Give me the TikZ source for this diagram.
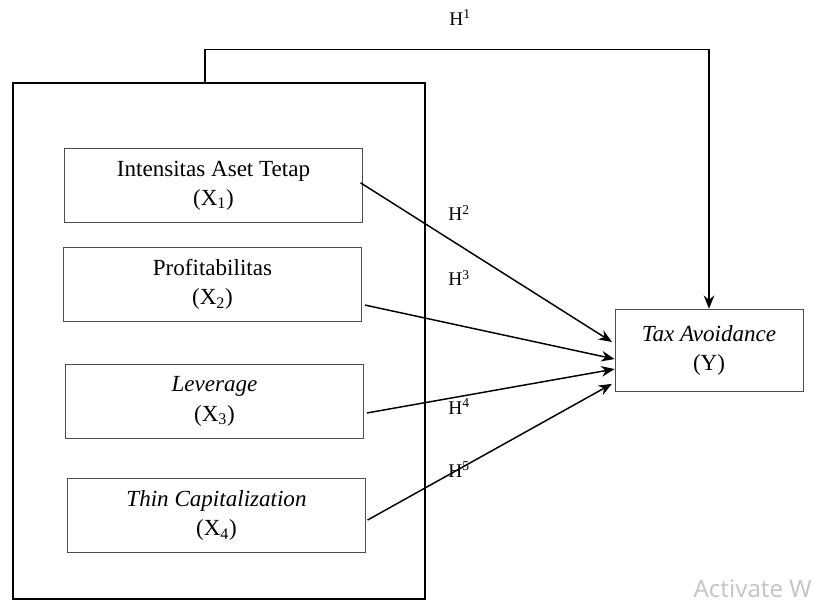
\documentclass[tikz,border=0pt]{standalone}
\usepackage{fontspec}
\setmainfont{Liberation Serif}
\newfontfamily\wmfont{Noto Sans}
\usetikzlibrary{positioning, arrows.meta, calc}
\tikzset{>={Stealth[length=10pt,width=8pt]}}

\begin{document}
\begin{tikzpicture}[
    x=0.75pt, y=-0.75pt,
    font=\fontsize{17.3}{22}\selectfont,
    var/.style={draw=gray!60!black, line width=0.6pt, align=center,
                minimum width=224pt, minimum height=56pt, inner sep=2pt},
    link/.style={->, line width=1.1pt},
    hlabel/.style={font=\fontsize{14.5}{16}\selectfont, inner sep=1pt},
  ]
  \useasboundingbox (0,0) rectangle (816,607);
  % outer frame
  \node[draw, line width=1.1pt, minimum width=309pt, minimum height=387pt] (frame) at (219,341) {};
  % independent variables
  \node[var] (X1) at (213.5,185.5) {Intensitas Aset Tetap\\(X\textsubscript{1})};
  \node[var] (X2) at (212.5,284.5) {Profitabilitas\\(X\textsubscript{2})};
  \node[var] (X3) at (214.5,401.5) {\textit{Leverage}\\(X\textsubscript{3})};
  \node[var] (X4) at (216.5,515.5) {\textit{Thin Capitalization}\\(X\textsubscript{4})};
  % dependent variable
  \node[var, minimum width=141pt, minimum height=62pt] (Y) at (709,350.5) {\textit{Tax Avoidance}\\(Y)};
  % hypotheses
  \draw[link] ([xshift=-10.5pt]frame.north) -- ++(0,-33) -| (Y.north);
  \draw[link] ([xshift=-2pt,yshift=2pt]X1.east) -- ([xshift=-2pt,yshift=6.4pt]Y.west);
  \draw[link] ([xshift=2pt,yshift=-15.4pt]X2.east) -- ([yshift=-6.4pt]Y.west);
  \draw[link] ([xshift=2pt,yshift=-8.6pt]X3.east) -- ([yshift=-13.9pt]Y.west);
  \draw[link] ([xshift=1pt,yshift=-3.4pt]X4.east) -- ([xshift=-2pt,yshift=-25pt]Y.west);
  \node[hlabel] (h1) at (460,18) {H\textsuperscript{1}};
  \node[hlabel] (h2) at (459,213) {H\textsuperscript{2}};
  \node[hlabel] (h3) at (459,278) {H\textsuperscript{3}};
  \node[hlabel] (h4) at (459,407) {H\textsuperscript{4}};
  \node[hlabel] (h5) at (459,470) {H\textsuperscript{5}};
  % watermark
  \node[anchor=east, inner sep=0pt, text=gray!45, font=\wmfont\fontsize{18}{20}\selectfont] (wm) at (812,589) {Activate W};
\end{tikzpicture}
\end{document}
